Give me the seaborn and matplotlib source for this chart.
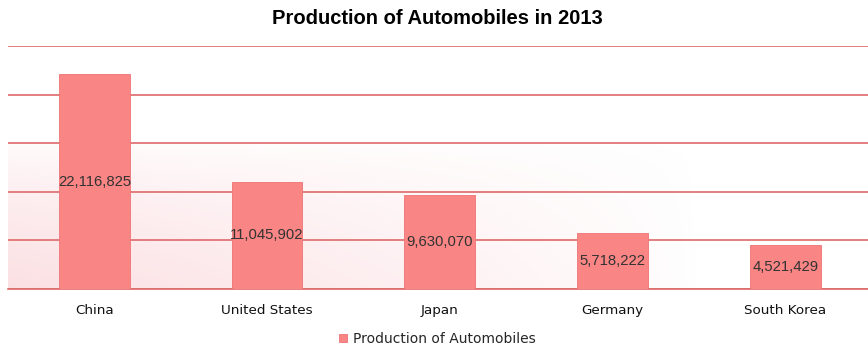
import numpy as np
import pandas as pd
import matplotlib
matplotlib.use("Agg")
import matplotlib.pyplot as plt
import seaborn as sns

countries = ["China", "United States", "Japan", "Germany", "South Korea"]
production = [22116825, 11045902, 9630070, 5718222, 4521429]
series_name = "Production of Automobiles"
title = "Production of Automobiles in 2013"

df = pd.DataFrame({"Country": countries, "Units": production, "Series": series_name})

sns.set_style("white")
plt.rcParams["font.family"] = ["DejaVu Sans"]

bar_color = "#F98585"
grid_color = "#DE6A6A"

fig = plt.figure(figsize=(8.68, 3.47), dpi=100)
ax = fig.add_axes([0.0092, 0.167, 0.995, 0.7])

# soft pink wash in the lower-left of the plot area
nx, ny = 300, 200
xa = np.linspace(0, 1, nx)
ya = np.linspace(0, 1, ny)
X, Y = np.meshgrid(xa, ya)
fy = np.clip((0.61 - Y) / 0.61, 0, 1) ** 0.6
fx = np.clip(1 - X / 0.8, 0, 1) ** 0.8
alpha = 0.32 * fy * fx
rgba = np.zeros((ny, nx, 4))
rgba[..., 0] = 0.96
rgba[..., 1] = 0.62
rgba[..., 2] = 0.66
rgba[..., 3] = alpha
ax.imshow(rgba, extent=[0, 1, 0, 1], origin="lower", transform=ax.transAxes,
          aspect="auto", zorder=0, interpolation="bilinear")

sns.barplot(data=df, x="Country", y="Units", hue="Series", palette=[bar_color],
            width=0.41, edgecolor="#EE7474", linewidth=0.6, ax=ax, zorder=3,
            saturation=1)

ax.set_xlim(-0.5, 4.5)
ax.set_ylim(0, 25_000_000)
ax.set_yticks(np.arange(0, 25_000_001, 5_000_000))
ax.set_yticklabels([])
ax.yaxis.grid(True, color=grid_color, linewidth=1.2, zorder=1)
ax.set_axisbelow(True)
for s in ["top", "right", "left"]:
    ax.spines[s].set_visible(False)
ax.spines["bottom"].set_color(grid_color)
ax.spines["bottom"].set_linewidth(1.2)
ax.tick_params(axis="y", length=0)
ax.tick_params(axis="x", length=0, labelsize=9.7, pad=11, colors="#111111")
ax.set_xticks(np.arange(-0.5, 5.0, 1.0), minor=True)
ax.tick_params(axis="x", which="minor", length=5, direction="inout",
               color=grid_color, width=1.0)
ax.set_xlabel("")
ax.set_ylabel("")

for i, v in enumerate(production):
    ax.text(i, v / 2, f"{v:,}", ha="center", va="center", fontsize=10.7,
            color="#333333", fontfamily="Liberation Sans", zorder=5)

ax.legend(loc="upper center", bbox_to_anchor=(0.497, -0.125), frameon=False,
          fontsize=10, handlelength=0.6, handleheight=0.6, handletextpad=0.4)

fig.text(0.504, 0.948, title, ha="center", va="center", fontsize=14.5,
         fontweight="bold", fontfamily="Liberation Sans", color="#000000")

fig.savefig("out.png", dpi=100)
